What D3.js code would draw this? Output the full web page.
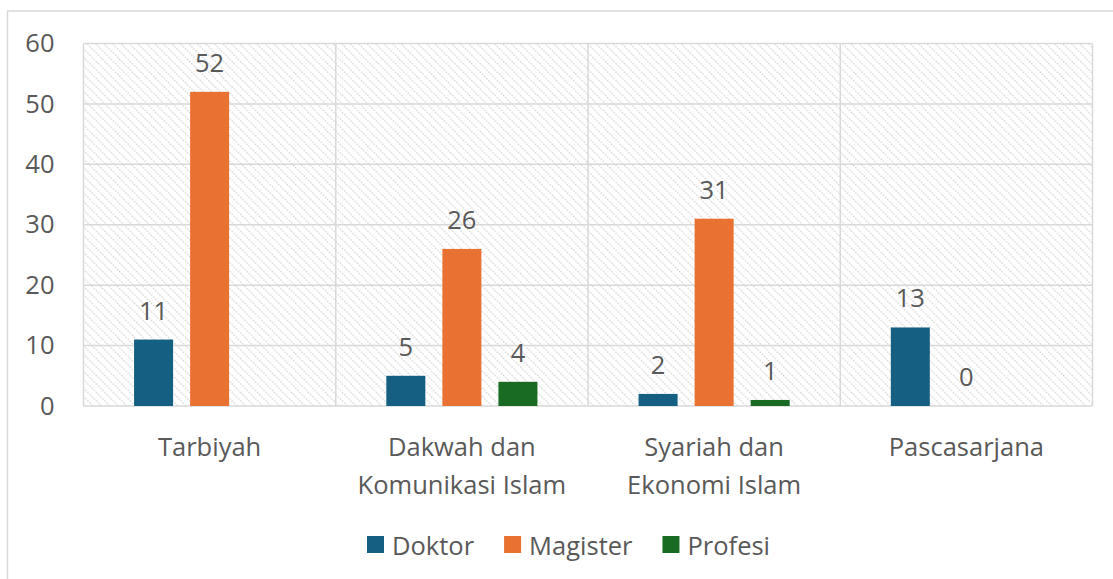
<!DOCTYPE html>
<html>
<head>
<meta charset="utf-8">
<script src="https://cdn.jsdelivr.net/npm/d3@7"></script>
<style>
  html, body { margin: 0; padding: 0; background: #fff; overflow: hidden; }
  svg { display: block; font-family: "Open Sans", "Noto Sans", sans-serif; }
</style>
</head>
<body>
<div id="chart"></div>
<script>
// --- data ---
const categories = [["Tarbiyah"], ["Dakwah dan", "Komunikasi Islam"], ["Syariah dan", "Ekonomi Islam"], ["Pascasarjana"]];
const seriesNames = ["Doktor", "Magister", "Profesi"];
const doktor = [11, 5, 2, 13];
const magister = [52, 26, 31, 0];
const profesi = [null, 4, 1, null];
const yTicks = [0, 10, 20, 30, 40, 50, 60];

const colors = ["#156082", "#E97132", "#196B24"];
const textColor = "#595959";
const gridColor = "#d9d9d9";
const fontSize = 25.5;

const W = 1113, H = 579;
const plot = { left: 83.5, right: 1092.5, top: 43.5, bottom: 406 };

const svg = d3.select("#chart").append("svg")
    .attr("width", W)
    .attr("height", H);

// hatched plot background (dotted downward diagonals)
const defs = svg.append("defs");
const pat = defs.append("pattern")
    .attr("id", "hatch")
    .attr("patternUnits", "userSpaceOnUse")
    .attr("width", 6)
    .attr("height", 6)
    .attr("patternTransform", "rotate(-45)");
pat.append("rect").attr("width", 6).attr("height", 6).attr("fill", "#fff");
pat.append("line")
    .attr("x1", 0).attr("y1", 0).attr("x2", 0).attr("y2", 6)
    .attr("stroke", "#cfcfcf")
    .attr("stroke-width", 2.4)
    .attr("stroke-dasharray", "1.6 1.4");

// outer chart border (runs off the right/bottom of the crop)
svg.append("rect")
    .attr("x", 7.5).attr("y", 11)
    .attr("width", W + 20).attr("height", H + 20)
    .attr("fill", "none")
    .attr("stroke", gridColor)
    .attr("stroke-width", 1.5);

// --- scales ---
const x0 = d3.scaleBand()
    .domain(d3.range(categories.length))
    .range([plot.left, plot.right])
    .paddingInner(0).paddingOuter(0);

const x1 = d3.scaleBand()
    .domain(d3.range(seriesNames.length))
    .range([0, x0.bandwidth()])
    .paddingInner(0.304)
    .paddingOuter(0.902);

const y = d3.scaleLinear().domain([0, 60]).range([plot.bottom, plot.top]);

svg.append("rect")
    .attr("x", plot.left).attr("y", plot.top)
    .attr("width", plot.right - plot.left)
    .attr("height", plot.bottom - plot.top)
    .attr("fill", "url(#hatch)");

// gridlines
svg.append("g")
    .selectAll("line")
    .data(yTicks)
    .join("line")
    .attr("x1", plot.left).attr("x2", plot.right)
    .attr("y1", d => y(d)).attr("y2", d => y(d))
    .attr("stroke", gridColor)
    .attr("stroke-width", 1.5);

svg.append("g")
    .selectAll("line")
    .data(d3.range(categories.length + 1))
    .join("line")
    .attr("x1", i => i < categories.length ? x0(i) : plot.right)
    .attr("x2", i => i < categories.length ? x0(i) : plot.right)
    .attr("y1", plot.top).attr("y2", plot.bottom)
    .attr("stroke", gridColor)
    .attr("stroke-width", 1.5);

// y axis labels
const yAxis = d3.axisLeft(y).tickValues(yTicks).tickSize(0).tickPadding(29);
const yg = svg.append("g")
    .attr("transform", `translate(${plot.left},0)`)
    .call(yAxis);
yg.select(".domain").remove();
yg.selectAll("text")
    .attr("fill", textColor)
    .attr("font-size", fontSize)
    .attr("font-family", "'Open Sans', sans-serif");

// bars
const seriesData = [doktor, magister, profesi];
const barData = [];
categories.forEach((c, ci) => {
    seriesData.forEach((vals, si) => {
        if (vals[ci] !== null) barData.push({ ci, si, v: vals[ci] });
    });
});

svg.append("g")
    .selectAll("rect")
    .data(barData)
    .join("rect")
    .attr("x", d => x0(d.ci) + x1(d.si))
    .attr("width", x1.bandwidth())
    .attr("y", d => y(d.v))
    .attr("height", d => y(0) - y(d.v))
    .attr("fill", d => colors[d.si]);

// data labels
svg.append("g")
    .selectAll("text")
    .data(barData)
    .join("text")
    .attr("x", d => x0(d.ci) + x1(d.si) + x1.bandwidth() / 2)
    .attr("y", d => y(d.v) - 20)
    .attr("text-anchor", "middle")
    .attr("fill", textColor)
    .attr("font-size", fontSize)
    .text(d => d.v);

// category labels
const catG = svg.append("g")
    .selectAll("text")
    .data(categories)
    .join("text")
    .attr("x", (d, i) => x0(i) + x0.bandwidth() / 2)
    .attr("y", 456)
    .attr("text-anchor", "middle")
    .attr("fill", textColor)
    .attr("font-size", fontSize);
catG.selectAll("tspan")
    .data(d => d)
    .join("tspan")
    .attr("x", function () { return this.parentNode.getAttribute("x"); })
    .attr("dy", (d, i) => i === 0 ? 0 : 38)
    .text(d => d);

// legend
const legend = svg.append("g").attr("transform", "translate(367,0)");
let lx = 0;
seriesNames.forEach((name, i) => {
    legend.append("rect")
        .attr("x", lx).attr("y", 536)
        .attr("width", 17).attr("height", 17)
        .attr("fill", colors[i]);
    const t = legend.append("text")
        .attr("x", lx + 25).attr("y", 555)
        .attr("fill", textColor)
        .attr("font-size", fontSize)
        .text(name);
    lx += 25 + t.node().getComputedTextLength() + 30;
});
</script>
</body>
</html>
